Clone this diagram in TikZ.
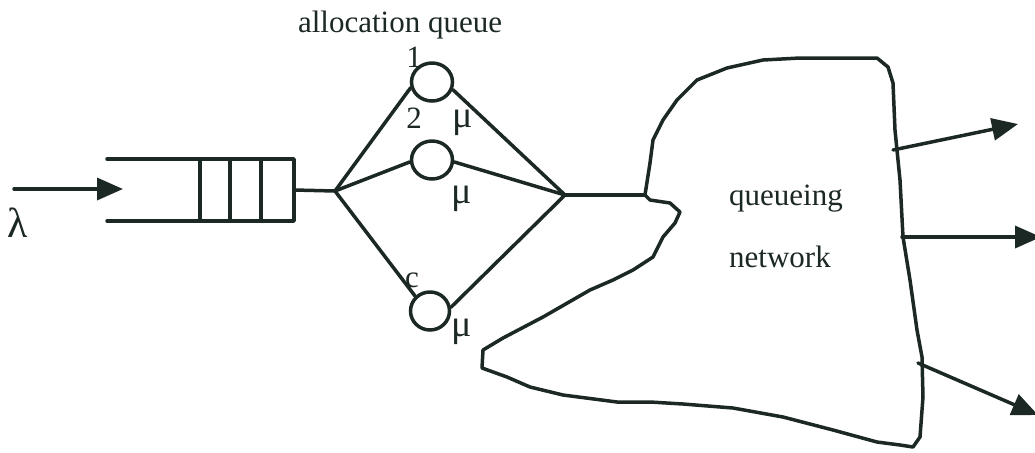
\documentclass[tikz,border=0pt]{standalone}
\usepackage{fontspec}
\setmainfont{Liberation Serif}
\usetikzlibrary{arrows.meta,shapes.geometric}
\definecolor{ink}{RGB}{28,40,36}
\tikzset{
  wire/.style={draw=ink, line width=1.75pt, line join=round, line cap=round},
  flow/.style={wire, -{Triangle[length=13pt,width=11pt]}},
  server/.style={ellipse, draw=ink, line width=1.75pt, inner sep=0pt,
                 minimum width=20.5pt, minimum height=19pt},
  lbl/.style={text=ink, font=\fontsize{15.5}{18}\selectfont, inner sep=0pt, anchor=base},
  greek/.style={lbl, font=\fontsize{19}{22}\selectfont}
}
\begin{document}
\begin{tikzpicture}[x=0.5pt,y=-0.5pt]
  \useasboundingbox (0,0) rectangle (1035,452);
  \clip (0,0) rectangle (1035,452);

  % arrival stream
  \coordinate (src) at (14,189);
  \coordinate (qin) at (123,189);
  \draw[flow] (src) -- (qin);
  \node[greek, font=\fontsize{21}{24}\selectfont] (lambda) at (18,237) {λ};

  % waiting buffer
  \draw[wire] (107,159) -- (294,159) -- (294,221) -- (107,221);
  \foreach \xx in {200,230,261} \draw[wire] (\xx,159) -- (\xx,221);
  \coordinate (qout) at (294,190);

  % allocation queue: split, servers, join
  \coordinate (split) at (335,191);
  \coordinate (join) at (565,195);
  \node[server] (s1) at (432,82) {};
  \node[server] (s2) at (432,160) {};
  \node[server, minimum width=19.5pt, minimum height=19pt] (sc) at (430,311) {};

  \draw[wire] (qout) -- (split);
  \draw[wire] (split) -- (s1.195);
  \draw[wire] (split) -- (s2.185);
  \draw[wire] (split) -- (sc.135);
  \draw[wire] (s1.340) -- (join);
  \draw[wire] (s2.355) -- (join);
  \draw[wire] (sc.10) -- (join);

  \node[lbl] (title) at (400,32) {allocation queue};
  \node[lbl] (n1) at (414,67) {1};
  \node[lbl] (n2) at (414,128) {2};
  \node[lbl] (nc) at (412,287) {c};
  \node[greek] (mu1) at (463,127) {μ};
  \node[greek] (mu2) at (462,203) {μ};
  \node[greek] (muc) at (462,336) {μ};

  % queueing network cloud
  \coordinate (netin) at (645,195);
  \draw[wire] (join) -- (netin);
  \draw[wire] plot coordinates {
    (645,195) (650,163) (653,140) (663,120) (677,100) (697,80) (727,68)
    (763,60) (800,58) (877,58) (888,67) (893,83) (895,130) (900,180)
    (903,237) (910,280) (917,330) (922,357) (923,397) (920,437) (913,447)
    (900,445) (877,442) (833,430) (783,417) (733,408) (683,404) (650,402)
    (617,402) (563,395) (530,387) (507,377) (482,368) (483,350) (503,338)
    (543,317) (590,290) (613,280) (633,270) (653,257) (663,237) (675,223)
    (680,212) (670,203) (650,200) (645,195)};
  \node[lbl] (q1) at (786,205) {queueing};
  \node[lbl] (q2) at (780,267) {network};

  % departures
  \coordinate (o1) at (893,150);
  \coordinate (t1) at (1018,124);
  \coordinate (o2) at (902,237);
  \coordinate (t2) at (1041,237);
  \coordinate (o3) at (918,363);
  \coordinate (t3) at (1038,415);
  \draw[flow] (o1) -- (t1);
  \draw[flow] (o2) -- (t2);
  \draw[flow] (o3) -- (t3);
\end{tikzpicture}
\end{document}
